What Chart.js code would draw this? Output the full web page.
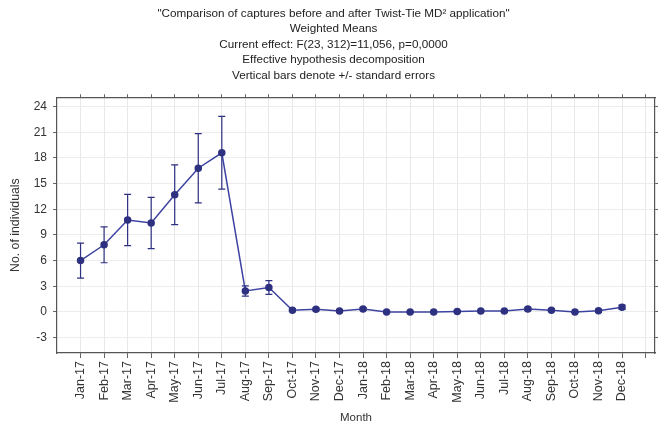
<!DOCTYPE html>
<html>
<head>
<meta charset="utf-8">
<script src="https://cdn.jsdelivr.net/npm/chart.js@4.4.1/dist/chart.umd.min.js"></script>
<style>
  html, body { margin: 0; padding: 0; background: #fff; }
  #wrap { width: 667px; height: 427px; }
</style>
</head>
<body>
<div id="wrap"><canvas id="c" width="667" height="427"></canvas></div>
<script>
// month labels on the x axis
const months = ["Jan-17","Feb-17","Mar-17","Apr-17","May-17","Jun-17","Jul-17","Aug-17","Sep-17","Oct-17","Nov-17","Dec-17",
                "Jan-18","Feb-18","Mar-18","Apr-18","May-18","Jun-18","Jul-18","Aug-18","Sep-18","Oct-18","Nov-18","Dec-18"];
// weighted mean captures
const means = [6.0, 7.85, 10.75, 10.4, 13.7, 16.8, 18.6, 2.45, 2.85, 0.2, 0.3, 0.12,
               0.35, 0.0, 0.0, 0.0, 0.05, 0.1, 0.1, 0.35, 0.2, 0.0, 0.15, 0.55];
// standard errors (+/-)
const se = [2.05, 2.1, 3.0, 3.0, 3.5, 4.05, 4.25, 0.6, 0.8, 0.15, 0.15, 0.1,
            0.15, 0.05, 0.05, 0.05, 0.1, 0.1, 0.1, 0.2, 0.15, 0.05, 0.15, 0.25];
const yTicks = [-3, 0, 3, 6, 9, 12, 15, 18, 21, 24];

const navy = "#2e3180";
const lineCol = "#3d43a0";

// draws the +/- SE bars using the chart's own scales
const errorBars = {
  id: "errorBars",
  beforeDatasetsDraw(chart) {
    const ctx = chart.ctx, xs = chart.scales.x, ys = chart.scales.y;
    ctx.save();
    ctx.strokeStyle = navy;
    ctx.lineWidth = 1.2;
    means.forEach((m, i) => {
      const px = xs.getPixelForValue(i + 1);
      const top = ys.getPixelForValue(m + se[i]);
      const bot = ys.getPixelForValue(m - se[i]);
      ctx.beginPath();
      ctx.moveTo(px, top); ctx.lineTo(px, bot);
      ctx.moveTo(px - 3.5, top); ctx.lineTo(px + 3.5, top);
      ctx.moveTo(px - 3.5, bot); ctx.lineTo(px + 3.5, bot);
      ctx.stroke();
    });
    ctx.restore();
  }
};

const fixTicks = (list) => (scale) => { scale.ticks = list.map(v => ({ value: v })); };
const xTickList = Array.from({ length: 25 }, (_, i) => i + 1);
const font = "Liberation Sans";

new Chart(document.getElementById("c"), {
  type: "line",
  data: {
    datasets: [{
      data: means.map((m, i) => ({ x: i + 1, y: m })),
      borderColor: lineCol,
      borderWidth: 1.5,
      backgroundColor: navy,
      pointBackgroundColor: navy,
      pointBorderColor: navy,
      pointRadius: 3,
      pointStyle: "circle",
      tension: 0
    }]
  },
  options: {
    responsive: false,
    animation: false,
    layout: { padding: 0 },
    plugins: {
      legend: { display: false },
      tooltip: { enabled: false },
      title: {
        display: true,
        text: [
          "\"Comparison of captures before and after Twist-Tie MD\u00B2 application\"",
          "Weighted Means",
          "Current effect: F(23, 312)=11,056, p=0,0000",
          "Effective hypothesis decomposition",
          "Vertical bars denote +/- standard errors"
        ],
        color: "#222",
        font: { family: font, size: 11.7, weight: "normal", lineHeight: 1.32 },
        padding: { top: 6, bottom: 10 }
      }
    },
    scales: {
      x: {
        type: "linear",
        position: "bottom",
        min: 0, max: 25.4,
        afterBuildTicks: fixTicks(xTickList),
        afterFit: (s) => { s.height = 74; },
        grid: { color: "#e8e8e8", tickLength: 5, tickColor: "#666" },
        border: { color: "#555", width: 1.2 },
        ticks: {
          autoSkip: false, minRotation: 90, maxRotation: 90, padding: 3,
          color: "#333", font: { family: font, size: 12.5 },
          callback: (v) => months[v - 1] || ""
        },
        title: { display: true, text: "Month", color: "#333", padding: { top: 2, bottom: 2 },
                 font: { family: font, size: 11.5 } }
      },
      x2: {
        type: "linear",
        position: "top",
        min: 0, max: 25.4,
        afterBuildTicks: fixTicks(xTickList),
        afterFit: (s) => { s.height = 4; },
        grid: { drawOnChartArea: false, tickLength: 3, tickColor: "#666" },
        border: { color: "#555", width: 1.2 },
        ticks: { display: false }
      },
      y: {
        position: "left",
        min: -4.8, max: 25.1,
        afterBuildTicks: fixTicks(yTicks),
        afterFit: (s) => { s.width = 57; },
        grid: { color: "#ececec", tickLength: 4, tickColor: "#666" },
        border: { color: "#555", width: 1.2 },
        ticks: { padding: 6, color: "#333", font: { family: font, size: 12 } },
        title: { display: true, text: "No. of individuals", color: "#333", padding: { top: 8, bottom: 0 },
                 font: { family: font, size: 12.3 } }
      },
      y2: {
        position: "right",
        min: -4.8, max: 25.1,
        afterBuildTicks: fixTicks(yTicks),
        afterFit: (s) => { s.width = 12; },
        grid: { drawOnChartArea: false, tickLength: 3, tickColor: "#666" },
        border: { color: "#555", width: 1.2 },
        ticks: { display: false }
      }
    }
  },
  plugins: [errorBars]
});
</script>
</body>
</html>
